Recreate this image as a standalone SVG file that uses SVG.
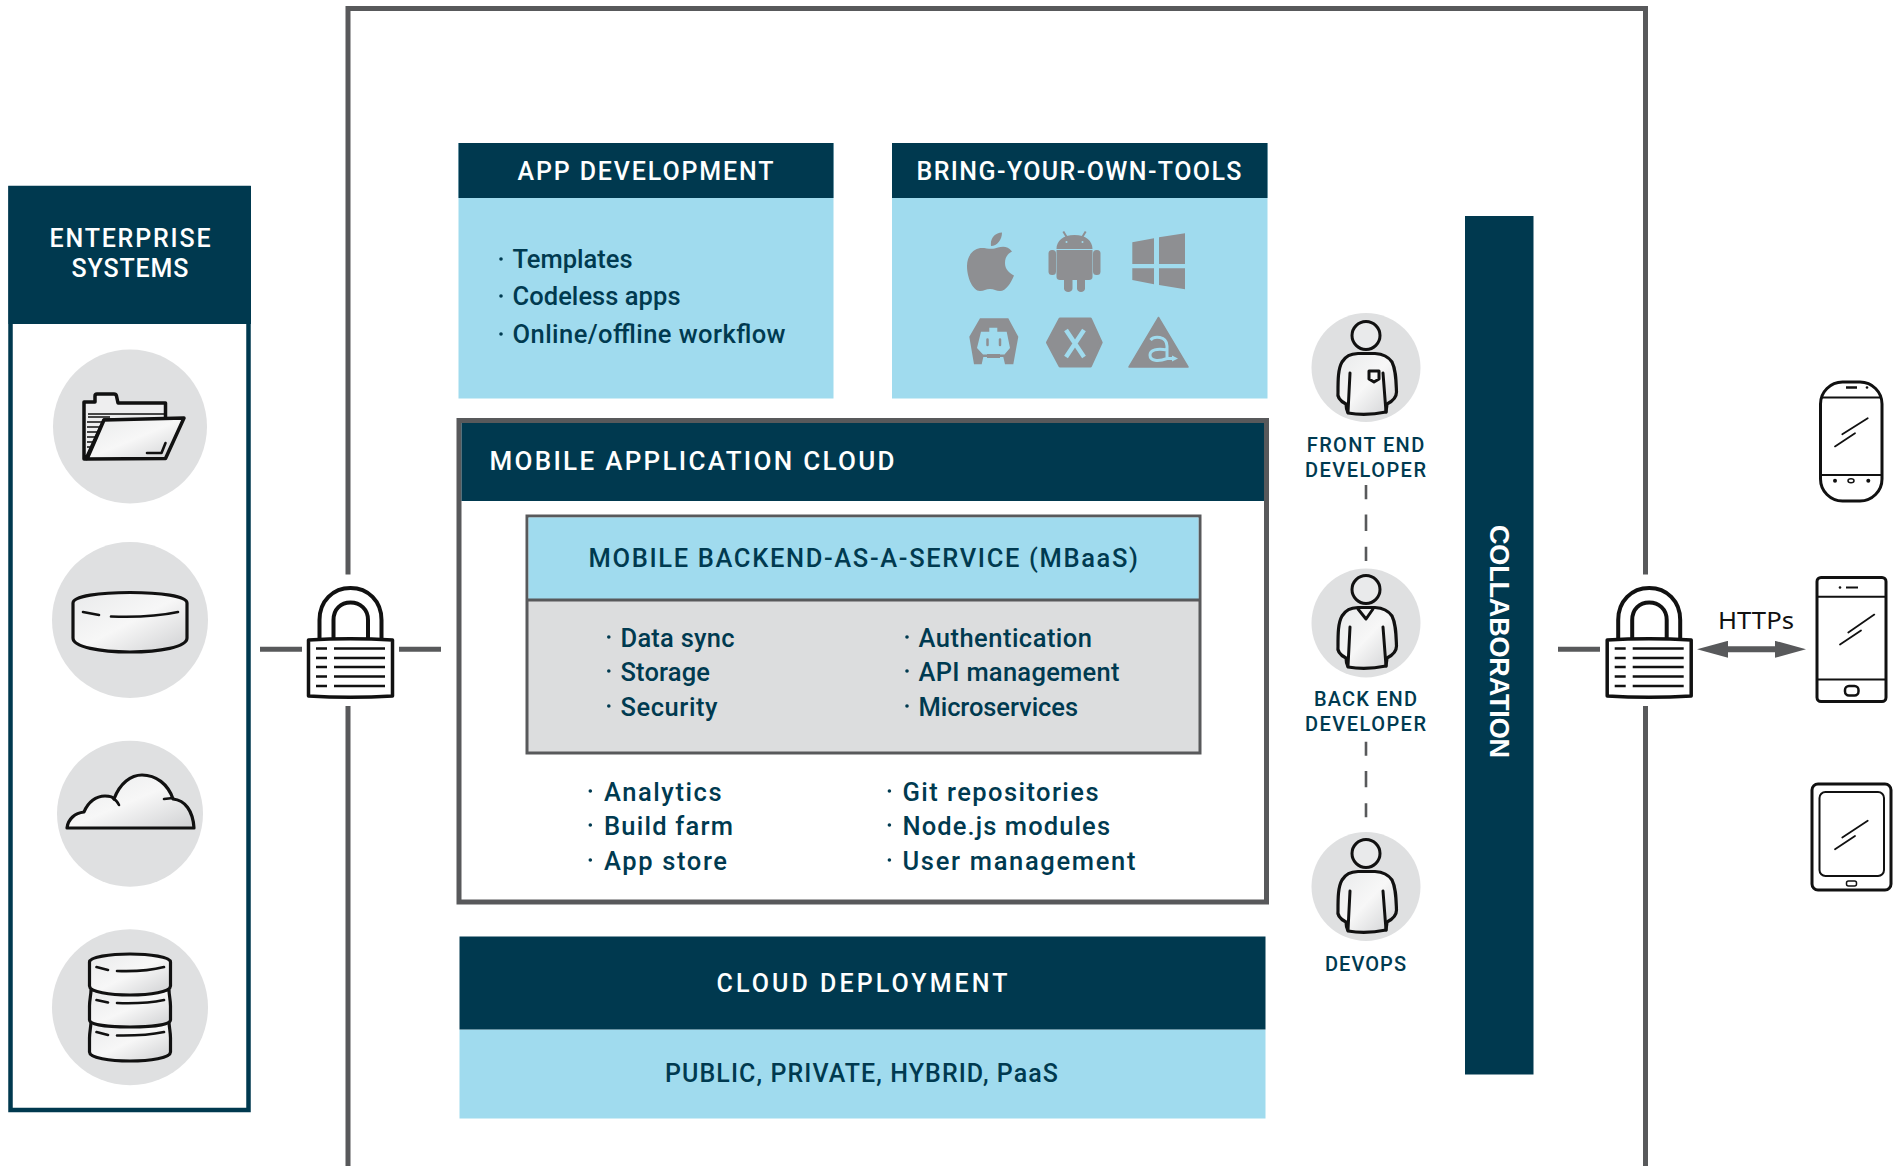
<svg xmlns="http://www.w3.org/2000/svg" width="1901" height="1166" viewBox="0 0 1901 1166">
<style>
text{font-family:Roboto,"Liberation Sans",sans-serif;font-weight:500;fill:#003a50}
.w{fill:#fff}
.h{font-size:25px}
.i{font-size:25.500px}
.l{font-size:20px}
.bar{fill:#00394f}
.sky{fill:#a0dbee}
.ci{fill:#dfe0e1}
.dot{fill:#003a50}
.ic{fill:url(#sheen);stroke:#111;stroke-width:3.200;stroke-linejoin:round;stroke-linecap:round}
.ln{fill:none;stroke:#111;stroke-width:2.600;stroke-linecap:round;stroke-linejoin:round}
.dv{fill:none;stroke:#111;stroke-width:3;stroke-linejoin:round;stroke-linecap:round}
.fr{stroke:#58595b;stroke-width:5;fill:none}
.ds{stroke:#58595b;stroke-width:2.600;fill:none}
.g{fill:#8e8f92}
.gl{fill:none;stroke:#a0dbee}
</style>
<defs>
<linearGradient id="sheen" x1="0" y1="0" x2="1" y2="1">
<stop offset="0" stop-color="#e9eaeb"/><stop offset=".5" stop-color="#f7f7f7"/><stop offset="1" stop-color="#cfd0d2"/>
</linearGradient>
<marker id="ah" markerUnits="userSpaceOnUse" viewBox="0 0 31 17" refX="1" refY="8.500" markerWidth="31" markerHeight="17" orient="auto-start-reverse"><path d="M0 0L31 8.500L0 17Z" fill="#58595b"/></marker>
<g id="lockShape">
<path fill="none" stroke="#111" stroke-width="4" d="M319.500 640V620C319.500 601 333 588 350.500 588S381.500 601 381.500 620V640M333.500 640V620C333.500 609 341 602.500 350.500 602.500S368 609 368 620V640"/>
<path d="M308.500 640Q350 637.500 392.500 640V696Q350 698.500 308.500 696Z" fill="#fff" stroke="#111" stroke-width="3.500" stroke-linejoin="round"/>
<path d="M316 648.500H327M334 648.500H385M316 658H327M334 658H385M316 667H327M334 667H385M316 676.500H327M334 676.500H385M316 686H327M334 686H385" stroke="#111" stroke-width="2.600" fill="none"/>
</g>
<g id="torso"><circle cx="1366" cy="335.500" r="14" fill="#e9eaeb" stroke="#111" stroke-width="3"/><path class="ic" d="M1348 413C1346 408 1346 405 1346 404C1340 401 1337 397 1338 392C1338 380 1338 369 1342 362C1346 356 1350 354 1358 353.500H1375C1383 354 1388 356 1392 362C1396 370 1396 380 1396.500 392C1396.500 397 1393 401 1387 404L1386 412Q1366 416 1348 413Z"/><path class="dv" d="M1350 373L1348 412M1383 373L1386 412"/></g>
</defs>
<rect width="1901" height="1166" fill="#fff"/>

<g id="connectors">
<path class="fr" d="M348 574.500V8.500H1645.500V574.500M348 706V1166M1645.500 706V1166"/>
<path class="fr" d="M260 649.300H302M399 649.300H441M1558 649.300H1600"/>
<path d="M1727 649.300H1776" stroke="#58595b" stroke-width="6" fill="none" marker-start="url(#ah)" marker-end="url(#ah)"/>
<path d="M1366 485V499.300M1366 514.500V531M1366 546.700V561M1366 741.700V755.700M1366 771V787.300M1366 803.300V817.300" class="ds"/>
<text x="1718" y="628.500" style="font-size:24px;fill:#111;font-weight:400;font-family:'Noto Sans',sans-serif" textLength="76" lengthAdjust="spacingAndGlyphs">HTTPs</text>
</g>

<g id="enterprise">
<rect x="10.500" y="188" width="238" height="922" fill="#fff" stroke="#00394f" stroke-width="4.500"/>
<rect class="bar" x="8.500" y="186" width="242.500" height="138"/>
<text class="w h" x="130" y="246.500" text-anchor="middle" textLength="161">ENTERPRISE</text>
<text class="w h" x="130" y="276.500" text-anchor="middle" textLength="117">SYSTEMS</text>
<circle class="ci" cx="130" cy="426.500" r="77"/>
<circle class="ci" cx="130" cy="620" r="78"/>
<circle class="ci" cx="130" cy="813.700" r="73"/>
<circle class="ci" cx="130" cy="1007.300" r="78"/>
<g id="folder">
<path class="dv" style="fill:#eeeeef;stroke-width:3.500" d="M84 459V402H95V396Q95 394 97 394H114Q116 394 116.500 396L118 403H165.500V420H104L86 459Z"/>
<path d="M88 414H165M88 417H110M87 422H105M87 427H103M87 432H100.500M87 437H98M87 442H96M87 447H93.500" stroke="#111" stroke-width="1.600" fill="none"/>
<path class="ic" style="stroke-width:3.500" d="M104 420L184 418L165.500 458.500L87 459Z"/>
<path class="ln" d="M147 453H161.500L165.500 443"/>
</g>
<g id="disk">
<path class="ic" d="M73 603C73 596 100 592.500 130 592.500S187 596 187 603V638C187 647 160 652 130 652S73 647 73 638Z"/>
<path class="ln" d="M83 612L99 615M111 616.500Q150 618 178 612"/>
</g>
<g id="cloud">
<path class="ic" d="M67 828C68 819 75 813 84 812C88 802 96 796 105 796C110 796 113 797 114 799C120 783 131 775 142 775C156 775 168 784 173 799C185 800 193 811 194 828Z"/>
<path class="ln" d="M114 799C116 800 118 803 119 805M164 799L173 798"/>
</g>
<g id="stack">
<path class="ic" d="M89.500 1038C89.500 1032 91 1026 91 1022H169C169 1026 170.500 1032 170.500 1038V1052C170.500 1058 150 1061 130 1061S89.500 1058 89.500 1052Z"/>
<path class="ic" d="M89.500 1006C89.500 1000 91 995 91 990H169C169 995 170.500 1000 170.500 1006V1020C170.500 1025 150 1027 130 1027S89.500 1025 89.500 1020Z"/>
<path class="ic" d="M89.500 962C89.500 957 110 954 130 954S170.500 957 170.500 962V986C170.500 992 150 995 130 995S89.500 992 89.500 986Z"/>
<path class="ln" d="M96.500 967L108 970M117 971Q145 972 164 967M96.500 1000L108 1002.500M117 1003Q145 1004 164 1000M96.500 1032L108 1035M117 1035.500Q145 1036 164 1032"/>
</g>
</g>

<g id="lock-left"><use href="#lockShape"/></g>
<g id="lock-right"><use href="#lockShape" x="1298.700"/></g>

<g id="app-development">
<rect class="sky" x="458.500" y="143" width="375" height="255.500"/>
<rect class="bar" x="458.500" y="143" width="375" height="55"/>
<text class="w h" x="517.500" y="180" textLength="256">APP DEVELOPMENT</text>
<circle class="dot" cx="501" cy="259" r="1.800"/><text class="i" x="512.500" y="267.500" textLength="120">Templates</text>
<circle class="dot" cx="501" cy="296" r="1.800"/><text class="i" x="512.500" y="305" textLength="168">Codeless apps</text>
<circle class="dot" cx="501" cy="334" r="1.800"/><text class="i" x="512.500" y="342.500" textLength="273">Online/offline workflow</text>
</g>

<g id="bring-your-own-tools">
<rect class="sky" x="892" y="143" width="375.500" height="255.500"/>
<rect class="bar" x="892" y="143" width="375.500" height="55"/>
<text class="w h" x="916.500" y="180" textLength="325">BRING-YOUR-OWN-TOOLS</text>
<g id="tool-apple"><path class="g" d="M998 247.500C1003 246 1008 246 1012 251.500C1007 254 1005 258 1005 263C1005 269 1009 273 1014 275.500C1011 283 1006 291 1000 291C996 291 994 289 990 289C986 289 984 291 980 291C973 291 967 278 967 266C967 254 975 248 982 248C987 248 992 250 998 247.500ZM991 246C990 238 995 233 1002 232.500C1002 240 997 246 991 246Z"/></g>
<g id="tool-android">
<path class="g" d="M1056.500 250H1092.500V277C1092.500 279 1091 280 1089 280H1085V288.500C1085 293 1077 293 1077 288.500V280H1072.500V288.500C1072.500 293 1064 293 1064 288.500V280H1060C1058 280 1056.500 279 1056.500 277ZM1056.500 249C1056.500 241 1063 235 1074.500 235C1086 235 1092.500 241 1092.500 249Z"/>
<path d="M1063.300 231.500L1067 237.500M1085.700 231.500L1082 237.500" stroke="#8e8f92" stroke-width="2"/>
<rect class="g" x="1048.500" y="250" width="7.500" height="25" rx="3.500"/><rect class="g" x="1093" y="250" width="7.500" height="25" rx="3.500"/>
<circle cx="1066.500" cy="242" r="1" fill="#a0dbee"/><circle cx="1082.500" cy="242" r="1" fill="#a0dbee"/>
</g>
<g id="tool-windows"><path class="g" d="M1132.300 242.300L1154 238.300V264H1132.300ZM1159 237.300L1185 233.300V264H1159ZM1132.300 268.300H1154V284.300L1132.300 280ZM1159 268.300H1185V289.300L1159 285Z"/></g>
<g id="tool-cordova">
<path class="g" d="M980 318.300H1008.300L1018.300 336.700L1013.300 364.300H1005L1003.300 357H983.300L981.700 364.300H974L969.300 336.700Z"/>
<path fill="#a0dbee" d="M981 331.700H989.300V327.700H997.300V331.700H1006.700L1010 348L1004.500 354.500H983L977 348Z"/>
<path d="M987.500 339.500V345M1000 339.500V345" stroke="#8e8f92" stroke-width="2.500" stroke-linecap="round"/>
<path fill="#8e8f92" d="M987 354H1000V358H987Z"/>
</g>
<g id="tool-xamarin"><path class="g" stroke="#8e8f92" stroke-width="3" stroke-linejoin="round" d="M1060 319H1090.500L1101.200 342.500L1090.500 366H1060L1047.500 342.500Z"/><path class="gl" stroke-width="4.500" d="M1066 330L1084 357M1084 330L1066 357"/></g>
<g id="tool-alloy"><path class="g" stroke="#8e8f92" stroke-width="1.500" stroke-linejoin="round" d="M1158.500 317.500L1188 367H1129Z"/><path class="gl" stroke-width="3" d="M1150.500 340C1154 336 1166.500 335.500 1167 346V358.500M1167 350C1157 348 1150 350 1150 355C1150 361 1158 362 1167 358.500H1174"/><path d="M1172 355.500L1178 358.500L1172 361.500Z" fill="#a0dbee"/></g>
</g>

<g id="mobile-application-cloud">
<rect x="459" y="420.500" width="807.500" height="481.500" fill="#fff" stroke="#58595b" stroke-width="5"/>
<rect class="bar" x="461.500" y="423" width="802.500" height="78"/>
<text class="w" style="font-size:26px" x="489.500" y="469.500" textLength="405">MOBILE APPLICATION CLOUD</text>
<g id="mbaas">
<rect x="527" y="516" width="673" height="237" fill="#dcddde" stroke="#58595b" stroke-width="3"/>
<rect class="sky" x="528.500" y="517.500" width="670" height="82"/>
<path d="M527 600H1200" stroke="#58595b" stroke-width="3"/>
<text class="i" x="588.500" y="566.500" textLength="549.500">MOBILE BACKEND-AS-A-SERVICE (MBaaS)</text>
<circle class="dot" cx="608.800" cy="637" r="1.800"/><text class="i" x="620.500" y="646.500" textLength="114">Data sync</text>
<circle class="dot" cx="608.800" cy="671" r="1.800"/><text class="i" x="620.500" y="680.500" textLength="89.500">Storage</text>
<circle class="dot" cx="608.800" cy="706" r="1.800"/><text class="i" x="620.500" y="715.500" textLength="97">Security</text>
<circle class="dot" cx="907" cy="637" r="1.800"/><text class="i" x="918.500" y="646.500" textLength="173.500">Authentication</text>
<circle class="dot" cx="907" cy="671" r="1.800"/><text class="i" x="918.500" y="680.500" textLength="201">API management</text>
<circle class="dot" cx="907" cy="706" r="1.800"/><text class="i" x="918.500" y="715.500" textLength="159.500">Microservices</text>
</g>
<circle class="dot" cx="590.300" cy="791" r="1.800"/><text class="i" x="604" y="800.500" textLength="117.500">Analytics</text>
<circle class="dot" cx="590.300" cy="825" r="1.800"/><text class="i" x="604" y="834.500" textLength="129">Build farm</text>
<circle class="dot" cx="590.300" cy="860" r="1.800"/><text class="i" x="604" y="869.500" textLength="123">App store</text>
<circle class="dot" cx="889.400" cy="791" r="1.800"/><text class="i" x="902.500" y="800.500" textLength="196">Git repositories</text>
<circle class="dot" cx="889.400" cy="825" r="1.800"/><text class="i" x="902.500" y="834.500" textLength="207.500">Node.js modules</text>
<circle class="dot" cx="889.400" cy="860" r="1.800"/><text class="i" x="902.500" y="869.500" textLength="233">User management</text>
</g>

<g id="cloud-deployment">
<rect class="sky" x="459.500" y="1029.500" width="806" height="89"/>
<rect class="bar" x="459.500" y="936.500" width="806" height="93"/>
<text class="w h" x="862" y="992" text-anchor="middle" textLength="291">CLOUD DEPLOYMENT</text>
<text class="h" x="861.500" y="1082" text-anchor="middle" textLength="393">PUBLIC, PRIVATE, HYBRID, PaaS</text>
</g>

<g id="collaboration">
<rect class="bar" x="1465" y="216" width="68.500" height="858.500"/>
<text class="w" style="font-size:27px;font-family:'Liberation Sans',sans-serif;font-weight:700" transform="translate(1490 525) rotate(90)" textLength="233">COLLABORATION</text>
</g>

<g id="front-end-developer">
<circle class="ci" cx="1366" cy="367.500" r="54.500"/>
<use href="#torso"/>
<path class="dv" d="M1369 371H1379V379L1374 382L1369 379Z"/>
<text class="l" x="1365.500" y="452" text-anchor="middle" textLength="117.500">FRONT END</text>
<text class="l" x="1365.500" y="477" text-anchor="middle" textLength="121">DEVELOPER</text>
</g>
<g id="back-end-developer">
<circle class="ci" cx="1366" cy="623" r="54.500"/>
<use href="#torso" y="254"/>
<path class="dv" d="M1358 609L1366 619L1373 609"/>
<text class="l" x="1365.500" y="705.500" text-anchor="middle" textLength="103">BACK END</text>
<text class="l" x="1365.500" y="730.500" text-anchor="middle" textLength="121">DEVELOPER</text>
</g>
<g id="devops">
<circle class="ci" cx="1366" cy="886.500" r="54.500"/>
<use href="#torso" y="518"/>
<text class="l" x="1365.500" y="971" text-anchor="middle" textLength="81">DEVOPS</text>
</g>

<g id="device-phone">
<rect x="1820.500" y="382" width="61.500" height="119" rx="22" fill="#fff" stroke="#111" stroke-width="3"/>
<path d="M1821 397.500H1882M1821 475H1882" stroke="#111" stroke-width="2" fill="none"/>
<path d="M1846 387.500H1857" stroke="#111" stroke-width="2.500"/><circle cx="1867" cy="387.500" r="1.300" fill="#111"/>
<circle cx="1835" cy="480.700" r="2" fill="#111"/><ellipse cx="1851" cy="480.700" rx="3" ry="2" fill="none" stroke="#111" stroke-width="1.500"/><circle cx="1868.300" cy="480.700" r="2" fill="#111"/>
<path d="M1842.300 434.300L1867.700 418.200M1835 446.400L1855 433.200" stroke="#111" stroke-width="1.800" stroke-linecap="round"/>
</g>
<g id="device-smartphone">
<rect x="1817" y="577.500" width="69" height="124" rx="4" fill="#fff" stroke="#111" stroke-width="3"/>
<path d="M1817 596.800H1886M1817 679.600H1886" stroke="#111" stroke-width="2" fill="none"/>
<path d="M1846 587.500H1858" stroke="#111" stroke-width="2"/><circle cx="1840" cy="587.500" r="1.300" fill="#111"/>
<rect x="1845" y="686" width="13.500" height="9.500" rx="4" fill="none" stroke="#111" stroke-width="2.500"/>
<path d="M1848.300 632.500L1874.300 614.600M1840 644.600L1861 630.400" stroke="#111" stroke-width="1.800" stroke-linecap="round"/>
</g>
<g id="device-tablet">
<rect x="1812" y="784" width="79" height="106" rx="6" fill="#fff" stroke="#111" stroke-width="3"/>
<rect x="1819.500" y="792" width="64.500" height="84" rx="6" fill="none" stroke="#111" stroke-width="2"/>
<rect x="1846.500" y="881" width="10" height="5" rx="2" fill="none" stroke="#111" stroke-width="1.500"/>
<path d="M1842.300 837.500L1867.700 820.700M1835 849.300L1855 836" stroke="#111" stroke-width="1.800" stroke-linecap="round"/>
</g>
</svg>
